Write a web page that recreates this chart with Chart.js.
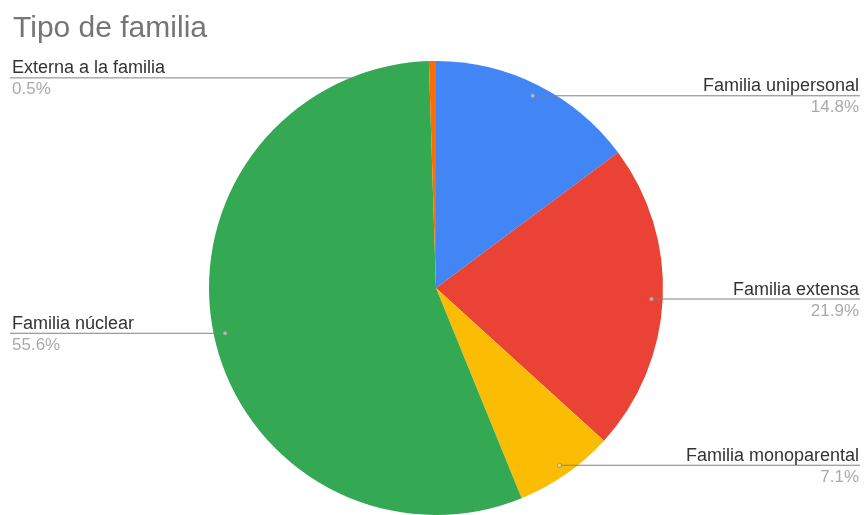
<!DOCTYPE html>
<html>
<head>
<meta charset="utf-8">
<script src="https://cdn.jsdelivr.net/npm/chart.js@4/dist/chart.umd.min.js"></script>
<style>
  html, body { margin: 0; padding: 0; background: #fff; }
  #wrap { width: 864px; height: 515px; position: relative; }
</style>
</head>
<body>
<div id="wrap"><canvas id="c" width="864" height="515"></canvas></div>
<script>
const chartTitle = "Tipo de familia";
const categories = ["Familia unipersonal", "Familia extensa", "Familia monoparental", "Familia núclear", "Externa a la familia"];
const percentages = [14.8, 21.9, 7.1, 55.6, 0.5];
const percentLabels = ["14.8%", "21.9%", "7.1%", "55.6%", "0.5%"];
const sliceColors = ["#4285F4", "#EA4335", "#FBBC04", "#34A853", "#FF6D01"];

const FONT = "'Liberation Sans', Arial, sans-serif";

// vertical shift of the label line relative to its anchor dot (layout only)
const lineShift = { 4: 5 };

const labelPlugin = {
  id: 'gLabels',
  afterDatasetsDraw(chart) {
    const ctx = chart.ctx;
    const W = chart.width;
    // title
    ctx.save();
    ctx.font = "30px " + FONT;
    ctx.fillStyle = "#757575";
    ctx.textAlign = "left";
    ctx.textBaseline = "alphabetic";
    ctx.fillText(chartTitle, 13, 37);
    ctx.restore();

    const meta = chart.getDatasetMeta(0);
    meta.data.forEach((arc, i) => {
      const p = arc.getProps(['x', 'y', 'startAngle', 'endAngle', 'outerRadius'], true);
      const mid = (p.startAngle + p.endAngle) / 2;
      const r = p.outerRadius;
      const dx = p.x + Math.cos(mid) * r * 0.95;
      const dy = p.y + Math.sin(mid) * r * 0.95;
      const right = Math.cos(mid) > 0;
      const shift = lineShift[i] || 0;
      const ly = dy + shift;
      let endX = dx;
      if (shift !== 0) {
        const h = ly - p.y;
        const half = Math.sqrt(Math.max(0, r * r - h * h));
        endX = right ? p.x + half : p.x - half;
      }
      ctx.save();
      // leader line
      ctx.strokeStyle = "#808080";
      ctx.lineWidth = 1;
      ctx.beginPath();
      if (right) {
        ctx.moveTo(endX, ly + 0.5);
        ctx.lineTo(W - 4, ly + 0.5);
      } else {
        ctx.moveTo(10, ly + 0.5);
        ctx.lineTo(endX, ly + 0.5);
      }
      ctx.stroke();
      // dot
      if (shift === 0) {
        ctx.beginPath();
        ctx.arc(dx, dy + 0.5, 2.2, 0, Math.PI * 2);
        ctx.fillStyle = "rgba(255,255,255,0.45)";
        ctx.fill();
        ctx.strokeStyle = "rgba(120,120,120,0.6)";
        ctx.stroke();
      }
      // texts
      ctx.textAlign = right ? "right" : "left";
      const tx = right ? W - 5 : 12;
      ctx.font = "18px " + FONT;
      ctx.fillStyle = "#333333";
      ctx.textBaseline = "alphabetic";
      ctx.fillText(categories[i], tx, ly - 4);
      ctx.font = "17px " + FONT;
      ctx.fillStyle = "#aaaaaa";
      ctx.fillText(percentLabels[i], tx, ly + 17);
      ctx.restore();
    });
  }
};

new Chart(document.getElementById('c'), {
  type: 'pie',
  data: {
    labels: categories,
    datasets: [{
      data: percentages,
      backgroundColor: sliceColors,
      borderWidth: 0
    }]
  },
  options: {
    responsive: false,
    animation: false,
    events: [],
    layout: { padding: { top: 61, bottom: 0, left: 209, right: 201 } },
    plugins: {
      legend: { display: false },
      tooltip: { enabled: false },
      title: { display: false }
    }
  },
  plugins: [labelPlugin]
});
</script>
</body>
</html>
